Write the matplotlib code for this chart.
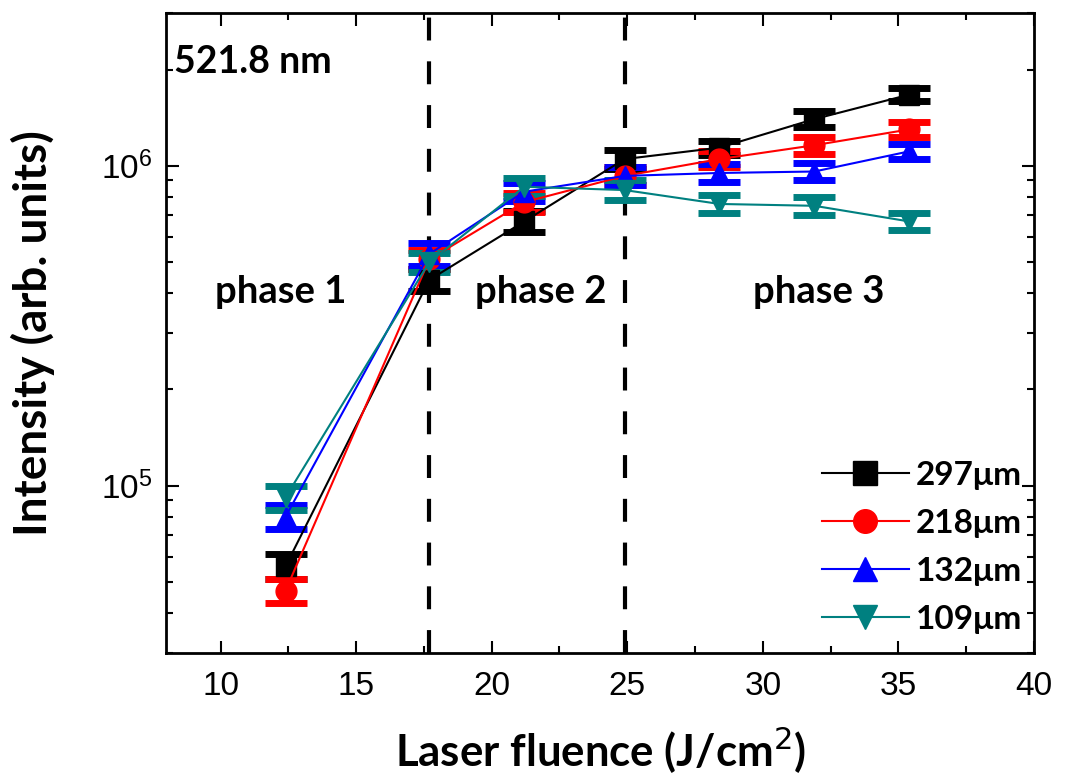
import matplotlib.pyplot as plt
from matplotlib.lines import Line2D
import numpy as np

# fluence values (J/cm^2)
fluence = [12.4, 17.7, 21.2, 24.9, 28.4, 31.9, 35.4]

# intensities for each spot size
i297 = [5.6e4, 4.4e5, 6.7e5, 1.05e6, 1.14e6, 1.40e6, 1.67e6]
i218 = [4.7e4, 5.1e5, 7.7e5, 9.3e5, 1.05e6, 1.16e6, 1.30e6]
i132 = [8.0e4, 5.3e5, 8.3e5, 9.3e5, 9.5e5, 9.6e5, 1.11e6]
i109 = [9.2e4, 5.0e5, 8.6e5, 8.4e5, 7.6e5, 7.5e5, 6.7e5]

# error bars (about 6 %)
e297 = [5e3, 3.5e4, 5e4, 7e4, 6e4, 8e4, 8e4]
e218 = [4e3, 3.5e4, 5.5e4, 6e4, 6e4, 7e4, 7e4]
e132 = [7e3, 4.5e4, 5.5e4, 6e4, 6e4, 6e4, 6e4]
e109 = [8e3, 3.5e4, 5.5e4, 6e4, 5e4, 5e4, 4e4]

labels = ['297\u03bcm', '218\u03bcm', '132\u03bcm', '109\u03bcm']
phase_edges = [17.7, 24.9]

fig = plt.figure(figsize=(10.66, 7.8), dpi=100)
ax = fig.add_axes([0.156, 0.163, 0.814, 0.820])

series = [(i297, e297, 's', 'black'),
          (i218, e218, 'o', 'red'),
          (i132, e132, '^', 'blue'),
          (i109, e109, 'v', '#008080')]

handles = []
for (y, e, m, c), lab in zip(series, labels):
    ax.errorbar(fluence, y, yerr=e, color=c, marker=m, markersize=15,
                linewidth=1.5, elinewidth=2, capsize=15, capthick=5)
    handles.append(Line2D([], [], color=c, marker=m, markersize=17,
                          linewidth=1.5, label=lab))

# phase boundaries
for xv in phase_edges:
    ax.axvline(xv, color='black', linestyle=(0, (5.5, 5)), linewidth=3, zorder=0)

ax.set_yscale('log')
ax.set_xlim(8, 40)
ax.set_ylim(3e4, 3e6)
ax.set_xticks([10, 15, 20, 25, 30, 35, 40])
ax.set_xticks(np.arange(12.5, 40, 5), minor=True)
ax.tick_params(which='both', direction='in', top=True, right=True, width=1.5)
ax.tick_params(which='major', length=9, labelsize=24, pad=10)
ax.tick_params(axis='x', which='major', pad=13)
ax.tick_params(which='minor', length=5)
for lbl in ax.get_xticklabels() + ax.get_yticklabels():
    lbl.set_family('Liberation Sans')
for sp in ax.spines.values():
    sp.set_linewidth(2)

bold = dict(family='Lato', weight='bold')
ax.set_xlabel('Laser fluence (J/cm$^{2}$)', fontsize=31.5, labelpad=16, **bold)
ax.set_ylabel('Intensity (arb. units)', fontsize=33, labelpad=33, **bold)

ax.text(8.3, 1.95e6, '521.8 nm', fontsize=27, **bold)
ax.text(9.8, 3.72e5, 'phase 1', fontsize=27.5, **bold)
ax.text(19.4, 3.72e5, 'phase 2', fontsize=27.5, **bold)
ax.text(29.65, 3.72e5, 'phase 3', fontsize=27.5, **bold)

ax.legend(handles=handles, loc='lower right', bbox_to_anchor=(0.986, 0.03),
          frameon=False, handlelength=2.6, borderaxespad=0, borderpad=0,
          labelspacing=0.57, handletextpad=0.2,
          prop=dict(family='Lato', weight='bold', size=24))

fig.savefig('out.png', dpi=100)
